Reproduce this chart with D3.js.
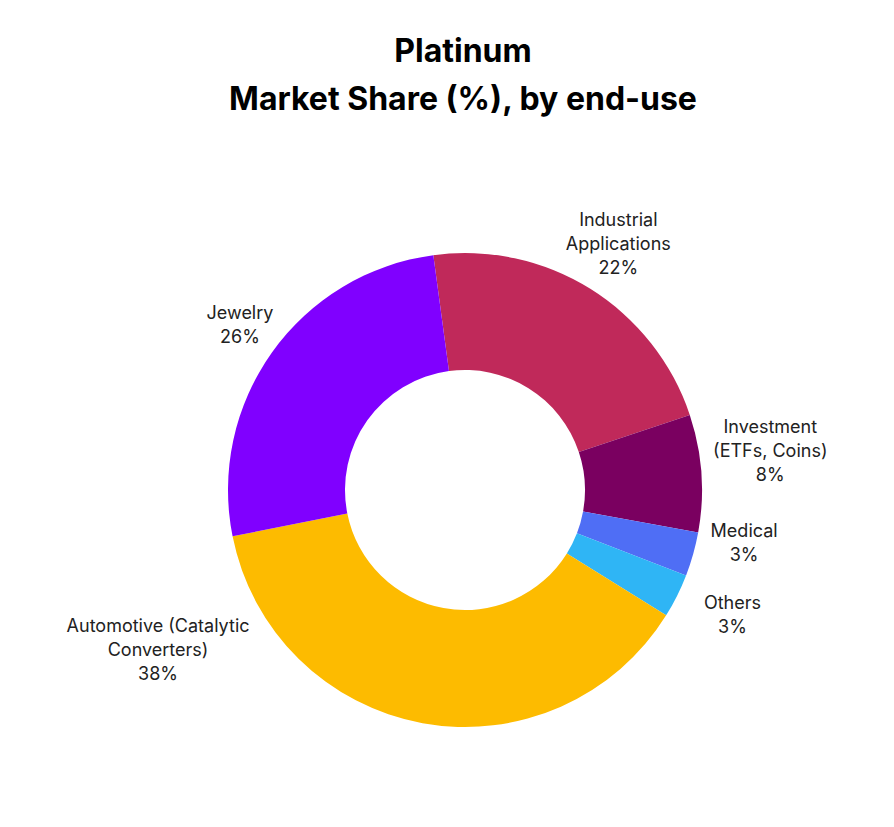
<!DOCTYPE html>
<html lang="en">
<head>
<meta charset="UTF-8" />
<title>Platinum Market Share</title>
<script src="https://d3js.org/d3.v7.min.js"></script>
<style>
  body { margin: 0; background: #fff; font-family: Inter, "Noto Sans", sans-serif; }
  .title { font-weight: 700; font-size: 32px; fill: #000; }
  .lbl { font-size: 18px; fill: #222; }
</style>
</head>
<body>
<svg width="894" height="827"></svg>
<script>
const categories = ["Industrial Applications", "Investment (ETFs, Coins)", "Medical", "Others", "Automotive (Catalytic Converters)", "Jewelry"];
const labelLines = [["Industrial", "Applications"], ["Investment", "(ETFs, Coins)"], ["Medical"], ["Others"], ["Automotive (Catalytic", "Converters)"], ["Jewelry"]];
const shares = [22, 8, 3, 3, 38, 26];
const colors = ["#C0295A", "#7A0060", "#4F6EF5", "#2FB5F5", "#FDBB00", "#8000FF"];

const svg = d3.select("svg");
const cx = 465, cy = 490, outerR = 237, innerR = 120;

svg.append("text").attr("class", "title").attr("x", 463).attr("y", 62)
  .attr("text-anchor", "middle").text("Platinum");
svg.append("text").attr("class", "title").attr("x", 463).attr("y", 110)
  .attr("text-anchor", "middle").text("Market Share (%), by end-use");

const data = categories.map((c, i) => ({ name: c, value: shares[i], lines: labelLines[i], color: colors[i] }));
const start = -0.134;
const pie = d3.pie().value(d => d.value).sort(null)
  .startAngle(start).endAngle(start + 2 * Math.PI);
const arc = d3.arc().innerRadius(innerR).outerRadius(outerR);

const g = svg.append("g").attr("transform", `translate(${cx},${cy})`);
const arcs = pie(data);
g.selectAll("path").data(arcs).enter().append("path")
  .attr("d", arc).attr("fill", d => d.data.color);

// label placement: radial position with small nudges for crowded slices
const nudge = {
  "Investment (ETFs, Coins)": [16, -18],
  "Medical": [0, -26],
  "Others": [8, -4],
  "Automotive (Catalytic Converters)": [-255, -125],
  "Jewelry": [11, 3]
};
const labelR = 290, lh = 24;
arcs.forEach(a => {
  const mid = (a.startAngle + a.endAngle) / 2;
  let x = Math.sin(mid) * labelR, y = -Math.cos(mid) * labelR;
  const n = nudge[a.data.name] || [0, 0];
  x += n[0]; y += n[1];
  const lines = a.data.lines.concat([a.data.value + "%"]);
  const t = g.append("text").attr("class", "lbl").attr("text-anchor", "middle");
  const y0 = y - (lines.length - 1) * lh / 2 + 6;
  lines.forEach((l, i) => t.append("tspan").attr("x", x).attr("y", y0 + i * lh).text(l));
});
</script>
</body>
</html>
